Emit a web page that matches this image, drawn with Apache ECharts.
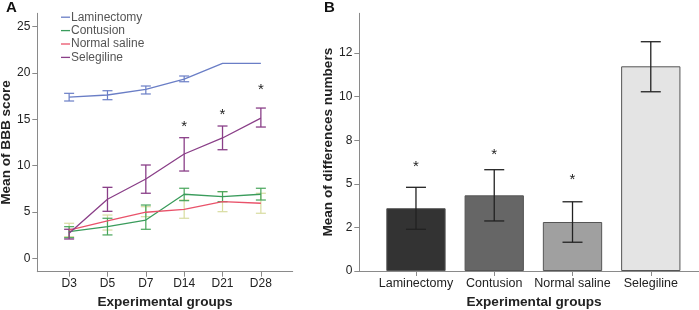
<!DOCTYPE html>
<html>
<head>
<meta charset="utf-8">
<script src="https://cdn.jsdelivr.net/npm/echarts@6/dist/echarts.min.js"></script>
<style>
  html, body { margin: 0; padding: 0; background: #fff; }
  #chart { width: 699px; height: 310px; }
</style>
</head>
<body>
<div id="chart"></div>
<script>
// panel A: BBB score over time
const days = ['D3', 'D5', 'D7', 'D14', 'D21', 'D28']
const groupNames = ['Laminectomy', 'Contusion', 'Normal saline', 'Selegiline']

const laminectomyMean = [17.41, 17.63, 18.24, 19.35, 21.05, 21.05]
const laminectomyHigh = [17.81, 18.09, 18.60, 19.68, 21.05, 21.05]
const laminectomyLow = [16.98, 17.12, 17.74, 19.06, 21.05, 21.05]

const contusionMean = [2.87, 3.41, 4.13, 6.91, 6.65, 6.91]
const contusionHigh = [3.41, 4.32, 5.75, 7.56, 7.19, 7.56]
const contusionLow = [2.22, 2.52, 3.13, 6.22, 6.11, 6.29]

const salineMean = [3.05, 4.03, 4.97, 5.29, 6.11, 5.94]
const salineHigh = [3.78, 4.67, 5.57, 6.29, 7.19, 7.02]
const salineLow = [2.33, 3.05, 4.49, 4.32, 5.03, 4.86]

const selegilineMean = [2.70, 6.37, 8.56, 11.26, 12.99, 15.13]
const selegilineHigh = [3.13, 7.66, 10.07, 13.02, 14.28, 16.22]
const selegilineLow = [2.08, 5.07, 7.02, 9.42, 11.72, 14.17]

const starDaysA = [3, 4, 5]
const starValuesA = [14.39, 15.72, 18.35]
const yTicksA = [0, 5, 10, 15, 20, 25]

// panel B: mean of differences
const diffMean = [3.60, 4.34, 2.81, 11.74]
const diffHigh = [4.80, 5.81, 3.97, 13.15]
const diffLow = [2.39, 2.87, 1.65, 10.28]
const starGroupsB = [0, 1, 2]
const starValuesB = [6.08, 6.77, 5.33]
const yTickValuesB = [0, 2.5, 5, 7.5, 10, 12.5]
const yTickLabelsB = ['0', '2', '5', '8', '10', '12']

const colors = {
  lam: '#6a7ec6', con: '#3a9c5c', sal: '#e9526a', sel: '#8a3f88',
  salErr: '#d8dca0', conErr: '#47a55a'
}
const barColors = ['#333333', '#666666', '#a0a0a0', '#e4e4e4']

const chart = echarts.init(document.getElementById('chart'))

const errBars = (capHalf, color, lw) => (params, api) => {
  const x = api.value(0)
  const top = api.coord([x, api.value(2)])
  const bot = api.coord([x, api.value(1)])
  const st = { stroke: color, lineWidth: lw }
  return {
    type: 'group',
    children: [
      { type: 'line', shape: { x1: top[0], y1: top[1], x2: bot[0], y2: bot[1] }, style: st },
      { type: 'line', shape: { x1: top[0] - capHalf, y1: top[1], x2: top[0] + capHalf, y2: top[1] }, style: st },
      { type: 'line', shape: { x1: bot[0] - capHalf, y1: bot[1], x2: bot[0] + capHalf, y2: bot[1] }, style: st }
    ]
  }
}

const stars = (params, api) => {
  const p = api.coord([api.value(0), api.value(1)])
  return {
    type: 'text',
    style: { text: '*', x: p[0], y: p[1] + 2, align: 'center', verticalAlign: 'middle', font: '15px Arial', fill: '#222' }
  }
}

const errSeries = (name, mean, low, high, capHalf, color, lw) => ({
  name, type: 'custom', xAxisIndex: 0, yAxisIndex: 0, z: 3,
  renderItem: errBars(capHalf, color, lw),
  data: mean.map((m, i) => [i, low[i], high[i]]).filter(d => d[2] - d[1] > 0.01)
})

const lineSeries = (name, mean, color) => ({
  name, type: 'line', xAxisIndex: 0, yAxisIndex: 0, symbol: 'none', z: 4,
  lineStyle: { color, width: 1.3 }, itemStyle: { color },
  data: mean.map((m, i) => [i, m])
})

const axisLabelStyle = { color: '#222', fontSize: 12, fontFamily: 'Arial' }
const nameStyle = { color: '#222', fontSize: 13.6, fontWeight: 'bold', fontFamily: 'Arial' }
const lineStyleAx = { color: '#8a8a8a', width: 1 }

chart.setOption({
  animation: false,
  title: [
    { text: 'A', left: 6, top: 0, padding: 0, textStyle: { fontSize: 15, fontWeight: 'bold', fontFamily: 'Arial', color: '#111' } },
    { text: 'B', left: 324, top: 0, padding: 0, textStyle: { fontSize: 15, fontWeight: 'bold', fontFamily: 'Arial', color: '#111' } }
  ],
  legend: {
    data: groupNames, orient: 'vertical', left: 61, top: 10.5, padding: 0,
    icon: 'rect', itemWidth: 9, itemHeight: 1.3, itemGap: 0,
    textStyle: { color: '#555', fontSize: 12, fontFamily: 'Arial', lineHeight: 13.4, padding: [0, 0, 0, -4] }
  },
  grid: [
    { left: 37.3, top: 13.3, width: 255.4, height: 258.4, outerBoundsMode: 'none', containLabel: false },
    { left: 359.3, top: 13.3, width: 349.4, height: 257.7, outerBoundsMode: 'none', containLabel: false }
  ],
  xAxis: [
    {
      type: 'value', gridIndex: 0, min: -0.83, max: 5.83, splitLine: { show: false },
      axisLine: { onZero: false, lineStyle: lineStyleAx },
      axisTick: { length: 5, lineStyle: lineStyleAx, customValues: [0, 1, 2, 3, 4, 5] },
      axisLabel: { ...axisLabelStyle, margin: 6, customValues: [0, 1, 2, 3, 4, 5], formatter: v => days[v] },
      name: 'Experimental groups', nameLocation: 'middle', nameGap: 24, nameTextStyle: nameStyle
    },
    {
      type: 'value', gridIndex: 1, min: -0.724, max: 3.74, splitLine: { show: false },
      axisLine: { onZero: false, lineStyle: lineStyleAx },
      axisTick: { length: 5, lineStyle: lineStyleAx, customValues: [0, 1, 2, 3] },
      axisLabel: { ...axisLabelStyle, fontSize: 12.5, margin: 6, customValues: [0, 1, 2, 3], formatter: v => groupNames[v] },
      name: 'Experimental groups', nameLocation: 'middle', nameGap: 24, nameTextStyle: nameStyle
    }
  ],
  yAxis: [
    {
      type: 'value', gridIndex: 0, min: -1.45, max: 26.45, splitLine: { show: false },
      axisLine: { show: true, onZero: false, lineStyle: lineStyleAx },
      axisTick: { show: true, length: 5, lineStyle: lineStyleAx, customValues: yTicksA },
      axisLabel: { ...axisLabelStyle, margin: 7, customValues: yTicksA },
      name: 'Mean of BBB score', nameLocation: 'middle', nameGap: 17, nameTextStyle: nameStyle
    },
    {
      type: 'value', gridIndex: 1, min: 0, max: 14.78, splitLine: { show: false },
      axisLine: { show: true, onZero: false, lineStyle: lineStyleAx },
      axisTick: { show: true, length: 5, lineStyle: lineStyleAx, customValues: yTickValuesB },
      axisLabel: {
        ...axisLabelStyle, margin: 7, customValues: yTickValuesB,
        formatter: v => yTickLabelsB[yTickValuesB.indexOf(v)]
      },
      name: 'Mean of differences numbers', nameLocation: 'middle', nameGap: 16, nameTextStyle: nameStyle
    }
  ],
  series: [
    errSeries('errLam', laminectomyMean, laminectomyLow, laminectomyHigh, 5, colors.lam, 1.2),
    errSeries('errSal', salineMean, salineLow, salineHigh, 5, colors.salErr, 1.2),
    errSeries('errCon', contusionMean, contusionLow, contusionHigh, 5, colors.conErr, 1.2),
    errSeries('errSel', selegilineMean, selegilineLow, selegilineHigh, 5, colors.sel, 1.3),
    lineSeries('Laminectomy', laminectomyMean, colors.lam),
    lineSeries('Contusion', contusionMean, colors.con),
    lineSeries('Normal saline', salineMean, colors.sal),
    lineSeries('Selegiline', selegilineMean, colors.sel),
    {
      name: 'starsA', type: 'custom', xAxisIndex: 0, yAxisIndex: 0, z: 5,
      renderItem: stars, data: starDaysA.map((d, i) => [d, starValuesA[i]])
    },
    {
      name: 'diff', type: 'bar', xAxisIndex: 1, yAxisIndex: 1, barWidth: 59.3,
      data: diffMean.map((m, i) => ({ value: [i, m], itemStyle: { color: barColors[i], borderColor: '#555', borderWidth: 1 } }))
    },
    {
      name: 'errDiff', type: 'custom', xAxisIndex: 1, yAxisIndex: 1, z: 4,
      renderItem: errBars(10, '#222', 1.3),
      data: diffMean.map((m, i) => [i, diffLow[i], diffHigh[i]])
    },
    {
      name: 'starsB', type: 'custom', xAxisIndex: 1, yAxisIndex: 1, z: 5,
      renderItem: stars, data: starGroupsB.map((g, i) => [g, starValuesB[i]])
    }
  ]
})
</script>
</body>
</html>
